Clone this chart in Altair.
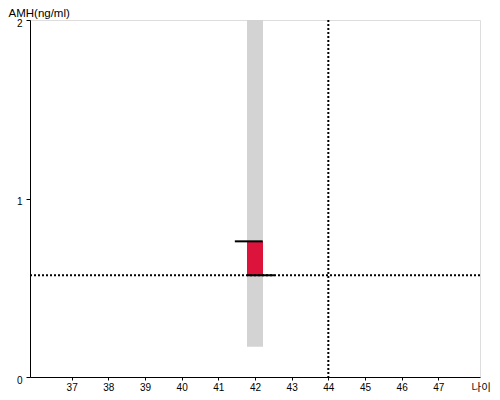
import altair as alt
import pandas as pd

# values
x_ticks = [37, 38, 39, 40, 41, 42, 43, 44, 45, 46, 47]
y_ticks = [0, 1, 2]
x_domain = [36, 48]
y_domain = [0, 2]

range_age = [42]
range_low = [0.17]
range_high = [2.0]

value_age = [42]
value_low = [0.57]
value_high = [0.76]

marker_y = [0.76, 0.57]
marker_x_start = [41.45, 41.78]
marker_x_end = [42.21, 42.53]

ref_age = [44]
ref_amh = [0.57]

font = "Liberation Sans"

rng = pd.DataFrame({"age": range_age, "lo": range_low, "hi": range_high})
val = pd.DataFrame({"age": value_age, "lo": value_low, "hi": value_high})
mk = pd.DataFrame({"y": marker_y, "x1": marker_x_start, "x2": marker_x_end})
vref = pd.DataFrame({"age": ref_age})
href = pd.DataFrame({"amh": ref_amh})

xs = alt.Scale(domain=x_domain, nice=False, zero=False)
ys = alt.Scale(domain=y_domain, nice=False)

xaxis = alt.Axis(values=x_ticks, format=".0f", title="나이", grid=False, tickSize=3, labelPadding=2,
                 labelFontSize=10, labelFont=font, labelColor="black", labelOverlap=False,
                 domainColor="black", tickColor="black", labelFlush=False,
                 titleFont="Noto Sans CJK KR", titleFontSize=10.5, titleFontWeight="normal",
                 titleColor="black", titleAlign="left", titleBaseline="alphabetic",
                 titleX=441, titleY=13, titleAnchor="start")
yaxis = alt.Axis(values=y_ticks, format=".0f", title="AMH(ng/ml)", grid=False, tickSize=4, labelPadding=4,
                 labelFontSize=10, labelFont=font, labelColor="black", labelOffset=3,
                 labelOverlap=False,
                 domainColor="black", tickColor="black", labelFlush=False,
                 titleFont=font, titleFontSize=11.5, titleFontWeight="normal",
                 titleColor="black", titleAngle=0, titleAlign="left",
                 titleBaseline="alphabetic", titleX=-22, titleY=-4, titleAnchor="start")

gray = alt.Chart(rng).mark_bar(color="#d3d3d3", size=16).encode(
    x=alt.X("age:Q", scale=xs, axis=xaxis),
    y=alt.Y("lo:Q", scale=ys, axis=yaxis),
    y2="hi:Q",
)
red = alt.Chart(val).mark_bar(color="#dc143c", size=16).encode(
    x=alt.X("age:Q", scale=xs),
    y=alt.Y("lo:Q", scale=ys),
    y2="hi:Q",
)
vline = alt.Chart(vref).mark_rule(color="black", strokeWidth=2, strokeDash=[2, 2]).encode(
    x=alt.X("age:Q", scale=xs)
)
hline = alt.Chart(href).mark_rule(color="black", strokeWidth=2, strokeDash=[2, 2]).encode(
    y=alt.Y("amh:Q", scale=ys)
)
markers = alt.Chart(mk).mark_rule(color="black", strokeWidth=2).encode(
    x=alt.X("x1:Q", scale=xs),
    x2="x2:Q",
    y=alt.Y("y:Q", scale=ys),
)

chart = alt.layer(gray, red, vline, hline, markers).properties(
    width=450, height=357,
    autosize=alt.AutoSizeParams(type="none"),
    padding={"left": 22, "top": 12, "right": 12, "bottom": 15},
).configure_view(stroke=None).configure(background="white")

chart.save("out.html", embed_options={"renderer": "svg", "actions": False})
